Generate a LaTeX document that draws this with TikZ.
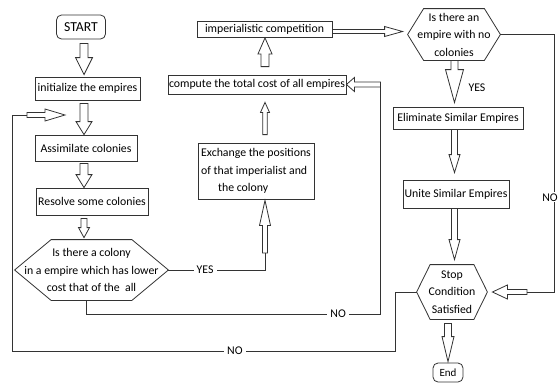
\documentclass[tikz,border=0pt]{standalone}
\usepackage{fontspec}
\setmainfont{Carlito}
\usetikzlibrary{calc}

\tikzset{
  ashaft/.store in=\arrshaft, ahead/.store in=\arrhead, awid/.store in=\arrwid,
  tailgap/.store in=\arrgapa, tipgap/.store in=\arrgapb,
  ashaft=4pt, ahead=13pt, awid=8pt, tailgap=0pt, tipgap=0pt,
  hollow/.style={to path={
    ($(\tikztostart)!\arrgapa!(\tikztotarget)$) coordinate (ha)
    ($(\tikztotarget)!\arrgapb!(\tikztostart)$) coordinate (hb)
    ($(ha)!\arrshaft!90:(hb)$)
      -- ($(hb)!\arrhead!(ha)!\arrshaft!90:(hb)$)
      -- ($(hb)!\arrhead!(ha)!\arrwid!90:(hb)$)
      -- (hb)
      -- ($(hb)!\arrhead!(ha)!\arrwid!-90:(hb)$)
      -- ($(hb)!\arrhead!(ha)!\arrshaft!-90:(hb)$)
      -- ($(ha)!\arrshaft!-90:(hb)$) -- cycle}}
}

\newcommand{\hexframe}[2]{%
  \draw (#1.west) -- ([xshift=#2]#1.north west) -- ([xshift=-#2]#1.north east)
    -- (#1.east) -- ([xshift=-#2]#1.south east) -- ([xshift=#2]#1.south west) -- cycle;}

\begin{document}
\begin{tikzpicture}[x=1pt, y=-1pt, line width=0.8pt, color=black!80,
    every node/.style={text=black},
    font=\fontsize{11.8}{17.5}\selectfont,
    box/.style={draw, inner sep=1pt, minimum height=20pt},
    term/.style={draw, rounded corners=5pt, inner sep=2pt},
    hexa/.style={inner sep=0pt, align=center},
    lbl/.style={fill=white, inner sep=3pt}]
    \useasboundingbox (0,0) rectangle (559,384);

    % left column
    \node[term, minimum width=49pt, minimum height=24pt, font=\fontsize{13.7}{16}\selectfont] (start) at (81,27) {START};
    \node[box, minimum width=105pt, minimum height=23pt] (init) at (87.5,88.5) {initialize the empires};
    \node[box, minimum width=102pt, minimum height=26pt] (assim) at (86,148) {Assimilate colonies};
    \node[box, minimum width=112pt, minimum height=27pt] (resolve) at (92,201.5) {Resolve some colonies};
    \node[hexa, minimum width=153pt, minimum height=60pt] (hex1) at (91.5,270)
        {Is there a colony\\in a empire which has lower\\cost that of the\ \ all};
    \hexframe{hex1}{36.5pt}

    % middle column
    \node[box, minimum width=116pt, minimum height=56pt, align=left] (exch) at (256,171)
        {Exchange the positions\\of that imperialist and\\\hspace*{17pt}the colony};
    \node[box, minimum width=178pt, minimum height=19pt] (comp) at (257,84.5) {compute the total cost of all empires};
    \node[box, minimum width=135pt, minimum height=16pt] (imp) at (264.5,29.5) {imperialistic competition};

    % right column
    \node[hexa, minimum width=92pt, minimum height=51pt] (hex2) at (454,34.5) {Is there an\\empire with no\\colonies};
    \hexframe{hex2}{16pt}
    \node[box, minimum width=130pt, minimum height=22pt] (elim) at (458,118) {Eliminate Similar Empires};
    \node[box, minimum width=106pt, minimum height=28pt] (unite) at (456,194) {Unite Similar Empires};
    \node[hexa, minimum width=70pt, minimum height=54pt] (hex3) at (452,292) {Stop\\Condition\\Satisfied};
    \hexframe{hex3}{13.5pt}
    \node[term, minimum width=30pt, minimum height=19pt, font=\fontsize{11}{13}\selectfont] (end) at (448,372.5) {End};
    \node (yes2) at (477,88) {YES};

    \coordinate (colL) at (84,0);
    \coordinate (colM) at (265,0);
    \coordinate (colR) at (454.5,0);
    \coordinate (yesT) at (265,253);
    \coordinate (noA) at (380.5,84.5);
    \coordinate (noC) at (380.5,314);
    \coordinate (stopL) at (395,351);
    \coordinate (loopC) at (12,351);
    \coordinate (loopA) at (27,115);
    \coordinate (loopT) at (65,115);
    \coordinate (noD) at (554,292);
    \coordinate (stopR) at (527,292);
    \coordinate (impR) at ([yshift=-2pt]imp.east);

    % hollow arrows
    \draw[hollow, ahead=17pt, awid=8.5pt, tailgap=4pt, tipgap=2pt] (colL |- start.south) to (colL |- init.north);
    \draw[hollow, tailgap=3pt] (colL |- init.south) to (colL |- assim.north);
    \draw[hollow, tailgap=2pt] (colL |- assim.south) to (colL |- resolve.north);
    \draw[hollow, ashaft=3pt, ahead=10pt, awid=5.5pt, tailgap=3pt, tipgap=2pt] (colL |- resolve.south) to (colL |- hex1.north);
    \draw[hollow, ashaft=2.5pt, ahead=20pt, awid=6pt] (loopA) to (loopT);
    \draw[hollow, ashaft=2.5pt, ahead=25pt, awid=5.5pt, tipgap=1pt] (yesT) to (yesT |- exch.south);
    \draw[hollow, ashaft=2.2pt, ahead=10pt, awid=4.5pt, tailgap=8pt, tipgap=8pt] (colM |- exch.north) to (colM |- comp.south);
    \draw[hollow, ashaft=4pt, ahead=16pt, awid=7pt, tailgap=8pt] (colM |- comp.north) to (colM |- imp.south);
    \draw[hollow, ashaft=2pt, ahead=18pt, awid=5pt, tipgap=5pt] (impR) to (impR -| hex2.west);
    \draw[hollow, ashaft=2.5pt, ahead=8pt, awid=7pt] (noA) to (noA -| comp.east);
    \draw[hollow, ashaft=3.5pt, ahead=33pt, awid=9pt, tipgap=4pt] (colR |- hex2.south) to (colR |- elim.north);
    \draw[hollow, ashaft=3pt, ahead=18pt, awid=5.5pt, tipgap=7pt] (colR |- elim.south) to (colR |- unite.north);
    \draw[hollow, ashaft=3pt, ahead=20pt, awid=5.5pt, tipgap=5pt] (colR |- unite.south) to (colR |- hex3.north);
    \draw[hollow, ashaft=3.5pt, ahead=25pt, awid=6pt, tailgap=4pt, tipgap=1pt] (hex3.south -| end.north) to (end.north);
    \draw[hollow, ashaft=2.5pt, ahead=15pt, awid=7pt, tipgap=5pt] (stopR) to (stopR -| hex3.east);

    % plain connectors
    \draw (hex1.east) -| node[lbl, pos=0.19] (yes1) {YES} (yesT);
    \draw ([xshift=-5pt]hex1.south) |- node[lbl, pos=0.928] (no1) {NO} (noC) -- ([yshift=-2.5pt]noA);
    \draw (hex3.west) -| (stopL) -- node[lbl, pos=0.418] (no2) {NO} (loopC) |- (loopA);
    \draw (hex2.east) -| node[lbl, pos=0.816, xshift=-4pt, inner sep=1pt] (no3) {NO} (noD) -- (stopR);
\end{tikzpicture}
\end{document}
